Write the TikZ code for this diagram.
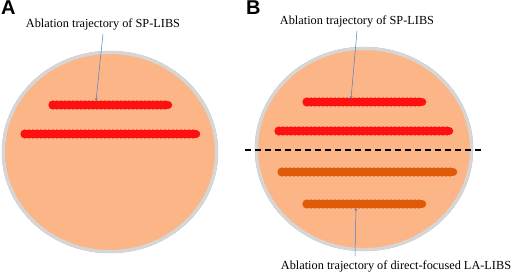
\documentclass[tikz,border=0pt]{standalone}
\usepackage{fontspec}
\usetikzlibrary{arrows.meta}
\setmainfont{Liberation Serif}
\newfontfamily\labfont{Liberation Sans}
\definecolor{dish}{HTML}{FCB586}
\definecolor{rim}{HTML}{D6D6D6}
\definecolor{rimedge}{HTML}{B8B8B8}
\definecolor{beadred}{HTML}{FF1010}
\definecolor{beadorange}{HTML}{E05A08}
\definecolor{arrblue}{HTML}{4A7EC8}
\begin{document}
\begin{tikzpicture}[x=1pt,y=-1pt,
  dishstyle/.style={fill=dish,draw=rim,line width=3pt},
  rimline/.style={draw=rimedge,line width=0.5pt},
  redtrack/.style={draw=beadred,line width=8.5pt,line cap=round},
  orangetrack/.style={draw=beadorange,line width=8.5pt,line cap=round},
  caption/.style={font=\fontsize{12.3}{14}\selectfont,inner sep=1pt},
  panel/.style={font=\labfont\bfseries\fontsize{20}{20}\selectfont,inner sep=0pt,anchor=north west},
  pointer/.style={draw=arrblue,line width=0.5pt,-{Stealth[length=3pt,width=2.5pt]}}]
\useasboundingbox (0,0) rectangle (512,276);
% panel A
\node[panel] (lA) at (1,1) {A};
\draw[rimline] (110,152) ellipse (108 and 101);
\draw[dishstyle] (110,152) ellipse (106.5 and 99.5);
\draw[redtrack] (53,105) -- (168,105);
\draw[redtrack] (25,134) -- (196,134);
\foreach \x in {53,57,...,168} {\fill[beadred] (\x,105) circle (4.6);}
\foreach \x in {25,29,...,196} {\fill[beadred] (\x,134) circle (4.6);}
\node[caption] (tA) at (103,24) {Ablation trajectory of SP-LIBS};
\coordinate (pA) at (96,101);
\draw[pointer] (tA.south) ++(0,3) coordinate (sA) -- (pA);
% panel B
\node[panel] (lB) at (246,1) {B};
\draw[rimline] (364,149) ellipse (109 and 102);
\draw[dishstyle] (364,149) ellipse (107.5 and 100.5);
\draw[redtrack] (307,102) -- (422,102);
\draw[redtrack] (279,131) -- (449,131);
\draw[orangetrack] (282,172) -- (453,172);
\draw[orangetrack] (307,204) -- (422,204);
\foreach \x in {307,311,...,422} {\fill[beadred] (\x,102) circle (4.6);}
\foreach \x in {279,283,...,449} {\fill[beadred] (\x,131) circle (4.6);}
\foreach \x in {282,286,...,453} {\fill[beadorange] (\x,172) circle (4.6);}
\foreach \x in {307,311,...,422} {\fill[beadorange] (\x,204) circle (4.6);}
\coordinate (dL) at (245,150);
\coordinate (dR) at (483,150);
\draw[black,line width=1.5pt,dash pattern=on 6pt off 4pt] (dL) -- (dR);
\node[caption] (tB) at (357,21) {Ablation trajectory of SP-LIBS};
\coordinate (pB) at (351,99);
\draw[pointer] (tB.south) ++(0,3) -- (pB);
\node[caption] (tC) at (396,266) {Ablation trajectory of direct-focused LA-LIBS};
\coordinate (pC) at (356,208);
\draw[pointer] (tC.north) ++(-41,-3) -- (pC);
\end{tikzpicture}
\end{document}
